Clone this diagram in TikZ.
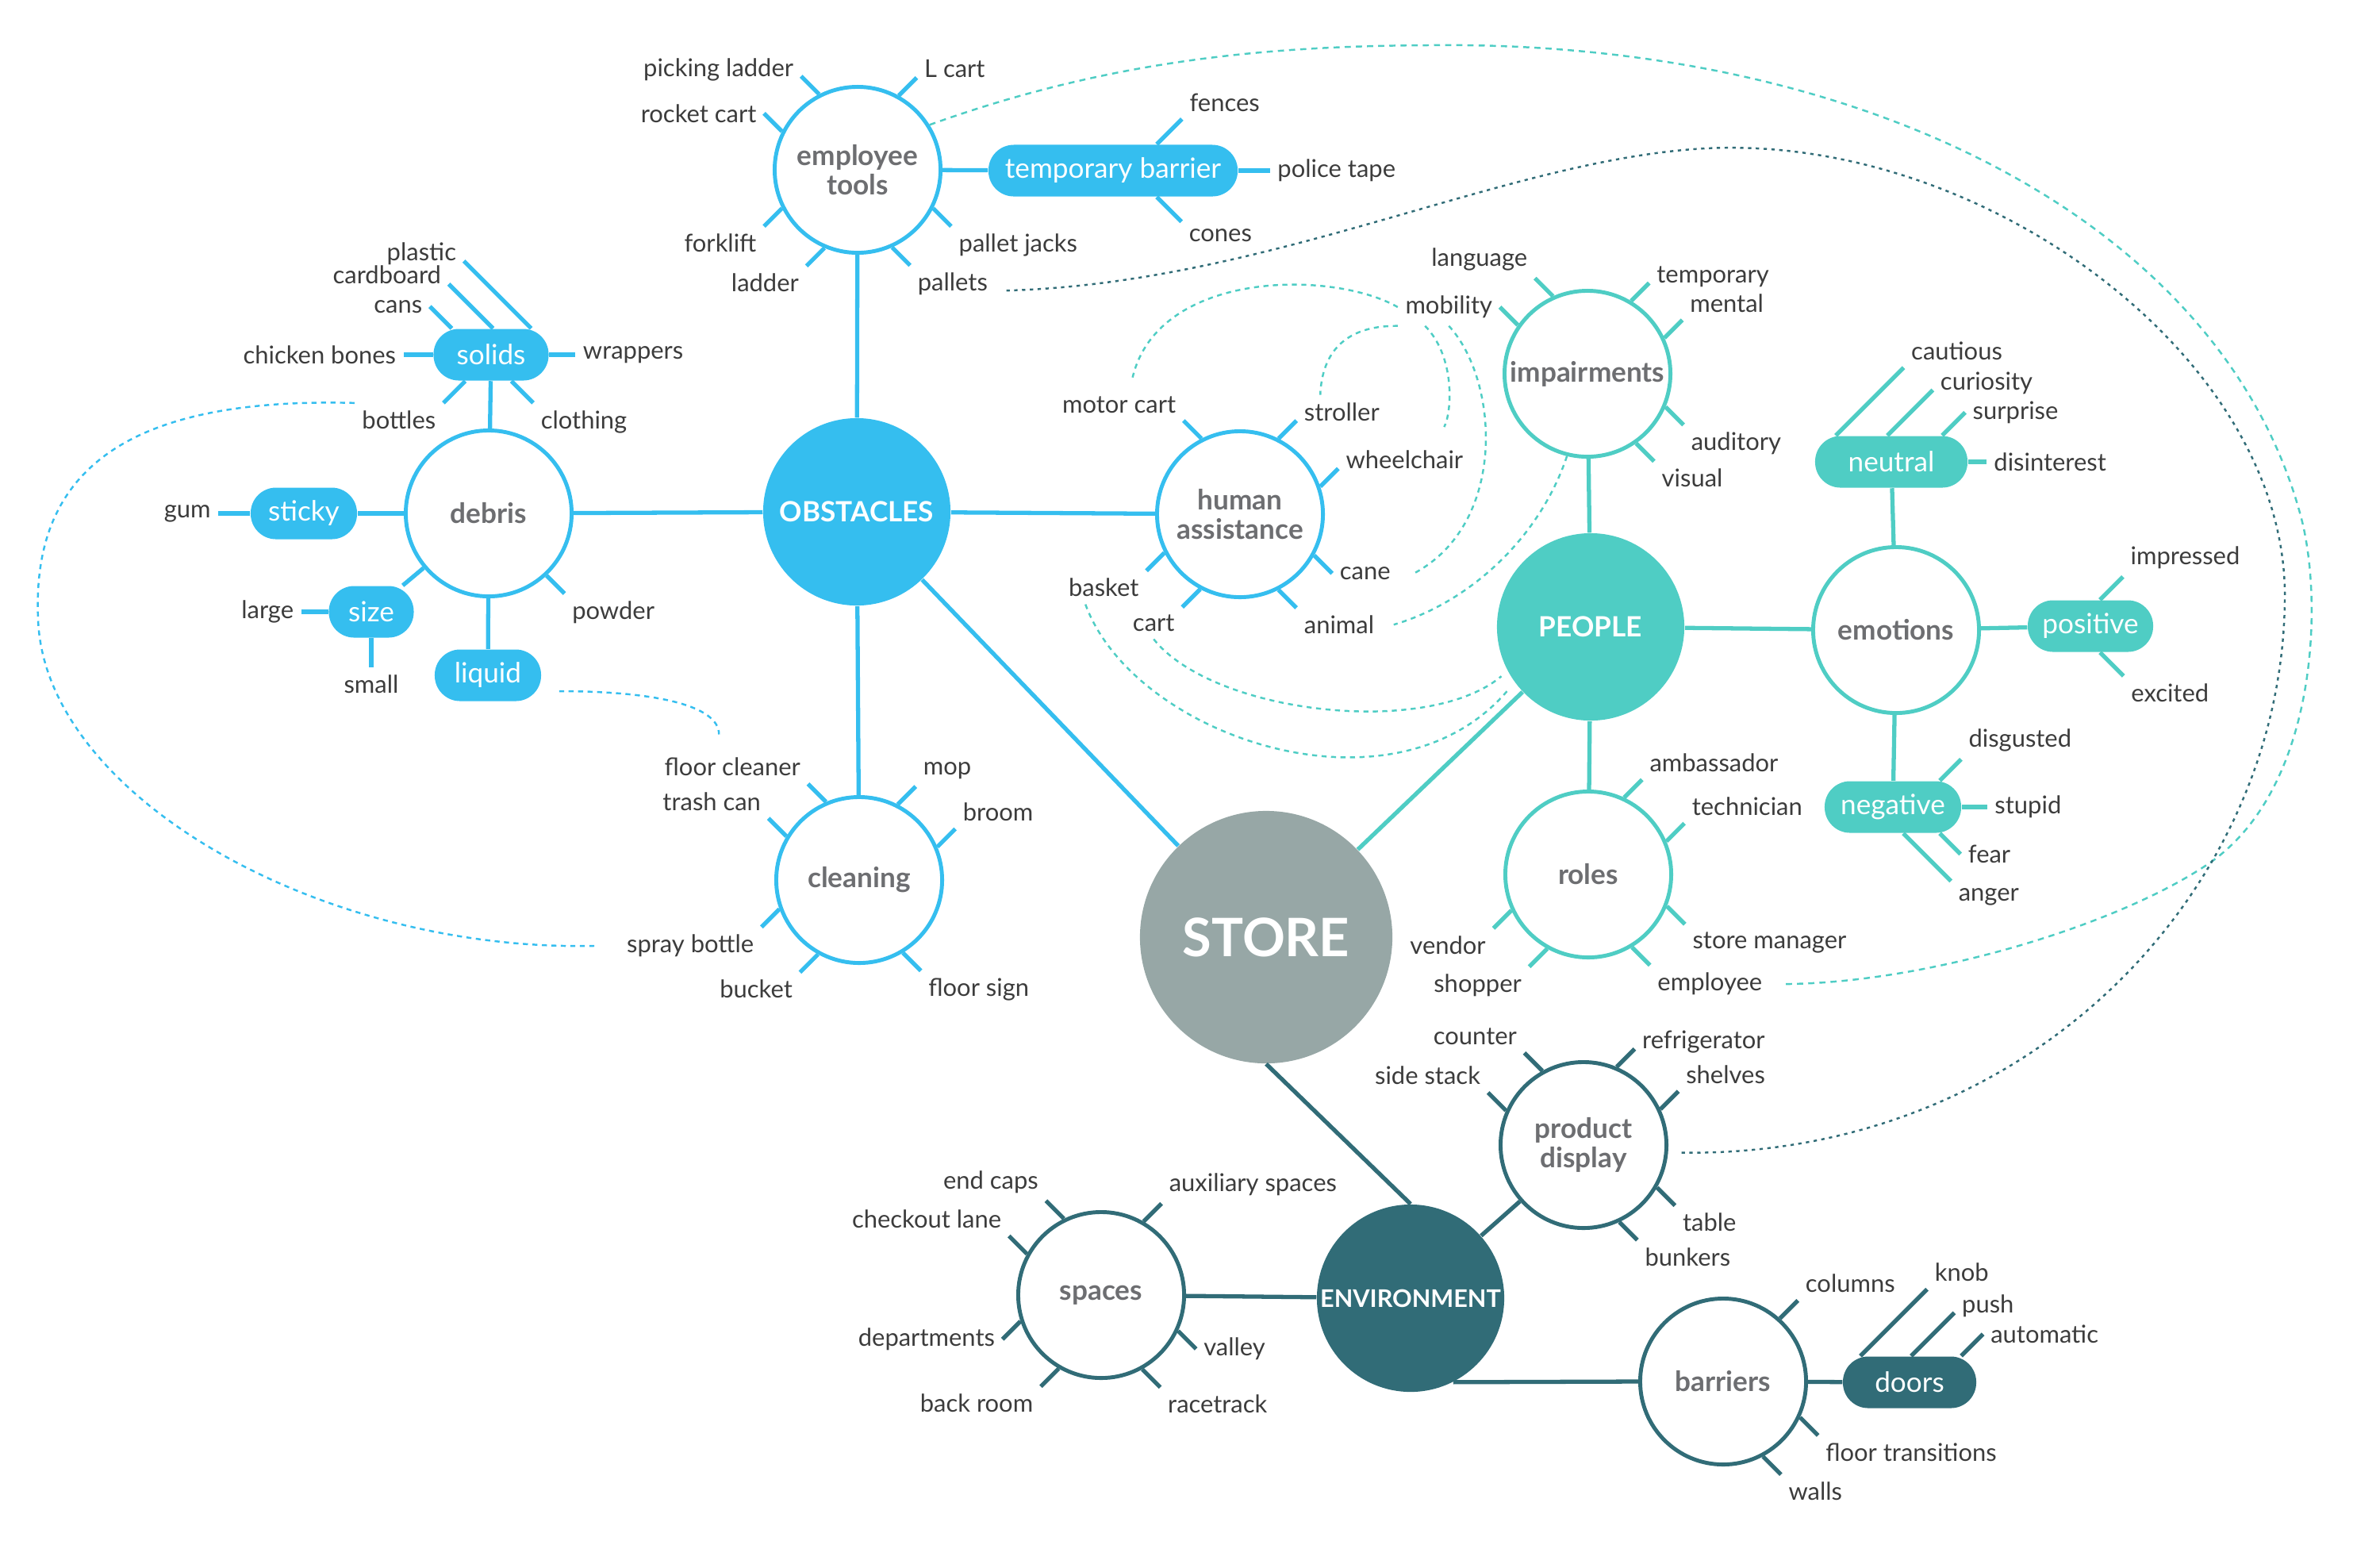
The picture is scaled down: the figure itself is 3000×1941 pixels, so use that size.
\documentclass[tikz,border=0pt]{standalone}
\usepackage{fontspec}
\setmainfont{Lato}

\definecolor{obsblue}{HTML}{35BEEF}
\definecolor{pplteal}{HTML}{4FCDC4}
\definecolor{envteal}{HTML}{316C77}
\definecolor{storegray}{HTML}{97A7A6}
\definecolor{titlegray}{HTML}{6D6E71}
\definecolor{leafgray}{HTML}{3C3C3C}

\tikzset{
  hub/.style={circle, inner sep=0pt, minimum size=2.36cm, text=white, font=\bfseries\fontsize{10}{11}\selectfont},
  topic/.style={circle, draw, fill=white, line width=1.4pt, inner sep=0pt, minimum size=2.09cm, align=center, text=titlegray, font=\bfseries\fontsize{10}{10.4}\selectfont},
  pill/.style={rounded corners=3.2mm, minimum height=6.5mm, inner sep=0pt, text=white, font=\fontsize{10}{11}\selectfont},
  leaf/.style={inner sep=2pt, text=leafgray, font=\fontsize{8.8}{10}\selectfont},
  link/.style={line width=1.5pt},
  tick/.style={line width=1.5pt},
  hint/.style={line width=0.7pt, dash pattern=on 1.8pt off 1.6pt},
}

\begin{document}
\begin{tikzpicture}[x=0.01cm, y=0.01cm]
\useasboundingbox (0,0) rectangle (3000,-1941);

\node[hub, fill=obsblue] (obstacles) at (1080,-645) {OBSTACLES};
\node[hub, fill=pplteal] (people) at (2005,-790) {PEOPLE};
\node[hub, fill=envteal, font=\bfseries\fontsize{8.7}{10}\selectfont] (env) at (1778,-1636) {ENVIRONMENT};
\node[hub, fill=storegray, minimum size=3.18cm, font=\bfseries\fontsize{19}{20}\selectfont] (store) at (1596,-1181) {STORE};

\node[topic, draw=obsblue] (tools) at (1081,-214) {employee\\tools};
\node[topic, draw=obsblue] (debris) at (616,-647) {debris};
\node[topic, draw=obsblue] (clean) at (1083,-1109) {cleaning};
\node[topic, draw=obsblue] (human) at (1563,-648) {human\\assistance};
\node[topic, draw=pplteal] (impair) at (2001,-471) {impairments};
\node[topic, draw=pplteal] (emotions) at (2390,-794) {emotions};
\node[topic, draw=pplteal] (roles) at (2002,-1102) {roles};
\node[topic, draw=envteal] (display) at (1996,-1443) {product\\display};
\node[topic, draw=envteal] (spaces) at (1388,-1632) {spaces};
\node[topic, draw=envteal] (barriers) at (2172,-1741) {barriers};

\node[pill, fill=obsblue, minimum width=1.45cm] (solids) at (619,-447) {solids};
\node[pill, fill=obsblue, minimum width=1.34cm] (sticky) at (383,-647) {sticky};
\node[pill, fill=obsblue, minimum width=1.07cm] (size) at (468,-771) {size};
\node[pill, fill=obsblue, minimum width=1.34cm] (liquid) at (615,-851) {liquid};
\node[pill, fill=obsblue, minimum width=3.14cm] (tbar) at (1403,-215) {temporary barrier};
\node[pill, fill=pplteal, minimum width=1.92cm] (neutral) at (2384,-582) {neutral};
\node[pill, fill=pplteal, minimum width=1.58cm] (positive) at (2635,-789) {positive};
\node[pill, fill=pplteal, minimum width=1.72cm] (negative) at (2386,-1017) {negative};
\node[pill, fill=envteal, minimum width=1.68cm] (doors) at (2407,-1742) {doors};

\draw[link, obsblue] (obstacles) -- (tools);
\draw[link, obsblue] (obstacles) -- (debris);
\draw[link, obsblue] (obstacles) -- (clean);
\draw[link, obsblue] (obstacles) -- (human);
\draw[link, obsblue] (obstacles) -- (store);
\draw[link, obsblue] (tools) -- (tbar);
\draw[link, obsblue] (debris) -- (solids);
\draw[link, obsblue] (debris) -- (sticky);
\draw[link, obsblue] (debris) -- (size);
\draw[link, obsblue] (debris) -- (liquid);
\draw[link, pplteal] (people) -- (store);
\draw[link, pplteal] (people) -- (impair);
\draw[link, pplteal] (people) -- (emotions);
\draw[link, pplteal] (people) -- (roles);
\draw[link, pplteal] (emotions) -- (neutral);
\draw[link, pplteal] (emotions) -- (positive);
\draw[link, pplteal] (emotions) -- (negative);
\draw[link, envteal] (store.south) -- (env.north);
\draw[link, envteal] (env) -- (spaces);
\draw[link, envteal] (env) -- (display);
\draw[link, envteal] (env.-63) -- (barriers.west);
\draw[link, envteal] (barriers) -- (doors);

\foreach \a/\anc/\t [count=\i, evaluate=\a as \d using {45+90*floor(\a/90)}] in {117/base east/picking ladder, 61/base west/L cart, 153/east/rocket cart, 207/north east/forklift, 247/north east/ladder, 294/north west/pallets, 333/north west/pallet jacks}
  \draw[tick, obsblue] (tools.\a) -- ++(\d:32) node[leaf, anchor=\anc] (tools-\i) {\t};
\foreach \a/\anc/\t [count=\i, evaluate=\a as \d using {45+90*floor(\a/90)}] in {117/south east/motor cart, 63/base west/stroller, 19/base west/wheelchair, 331/west/cane, 297/north west/animal, 242/north east/cart, 207/north east/basket}
  \draw[tick, obsblue] (human.\a) -- ++(\d:32) node[leaf, anchor=\anc] (human-\i) {\t};
\foreach \a/\anc/\t [count=\i, evaluate=\a as \d using {45+90*floor(\a/90)}] in {113/south east/floor cleaner, 63/south west/mop, 23/south west/broom, 149/south east/trash can, 200/north east/spray bottle, 241/north east/bucket, 301/north west/floor sign}
  \draw[tick, obsblue] (clean.\a) -- ++(\d:32) node[leaf, anchor=\anc] (clean-\i) {\t};
\foreach \a/\anc/\t [count=\i, evaluate=\a as \d using {45+90*floor(\a/90)}] in {313/north west/powder}
  \draw[tick, obsblue] (debris.\a) -- ++(\d:32) node[leaf, anchor=\anc] (debris-\i) {\t};
\foreach \a/\anc/\t [count=\i, evaluate=\a as \d using {45+90*floor(\a/90)}] in {114/south east/language, 145/east/mobility, 59/base west/temporary, 25/south west/mental, 337/north west/auditory, 305/north west/visual}
  \draw[tick, pplteal] (impair.\a) -- ++(\d:32) node[leaf, anchor=\anc] (impair-\i) {\t};
\foreach \a/\anc/\t [count=\i, evaluate=\a as \d using {45+90*floor(\a/90)}] in {65/south west/ambassador, 23/south west/technician, 338/north west/store manager, 301/north west/employee, 205/north east/vendor, 241/north east/shopper}
  \draw[tick, pplteal] (roles.\a) -- ++(\d:32) node[leaf, anchor=\anc] (roles-\i) {\t};
\foreach \a/\anc/\t [count=\i, evaluate=\a as \d using {45+90*floor(\a/90)}] in {119/south east/counter, 156/south east/side stack, 67/base west/refrigerator, 25/south west/shelves, 330/north west/table, 295/north west/bunkers}
  \draw[tick, envteal] (display.\a) -- ++(\d:32) node[leaf, anchor=\anc] (display-\i) {\t};
\foreach \a/\anc/\t [count=\i, evaluate=\a as \d using {45+90*floor(\a/90)}] in {116/south east/end caps, 60/south west/auxiliary spaces, 151/south east/checkout lane, 198/east/departments, 240/north east/back room, 335/west/valley, 299/north west/racetrack}
  \draw[tick, envteal] (spaces.\a) -- ++(\d:32) node[leaf, anchor=\anc] (spaces-\i) {\t};
\foreach \a/\anc/\t [count=\i, evaluate=\a as \d using {45+90*floor(\a/90)}] in {48/south west/columns, 335/north west/floor transitions, 298/north west/walls}
  \draw[tick, envteal] (barriers.\a) -- ++(\d:32) node[leaf, anchor=\anc] (barriers-\i) {\t};

\foreach \p/\s/\d/\l/\anc/\t [count=\i] in {north/5.05mm/135/120/base east/plastic, north/0.25mm/135/79/base east/cardboard, north/-4.95mm/135/39/east/cans, west/0mm/180/37/east/chicken bones, east/0mm/0/33/west/wrappers, south/-3.25mm/225/39/north east/bottles, south/2.55mm/315/39/north west/clothing}
  \draw[tick, obsblue] ([xshift=\s]solids.\p) -- ++(\d:\l) node[leaf, anchor=\anc] (solids-\i) {\t};
\draw[tick, obsblue] (sticky.west) -- ++(180:40) node[leaf, anchor=east] (sticky-1) {gum};
\draw[tick, obsblue] (size.west) -- ++(180:34) node[leaf, anchor=east] (size-1) {large};
\draw[tick, obsblue] (size.south) -- ++(270:37) node[leaf, anchor=north] (size-2) {small};
\foreach \p/\s/\d/\l/\anc/\t [count=\i] in {north/5.5mm/45/45/south west/fences, east/0mm/0/40/west/police tape, south/5.5mm/315/44/north west/cones}
  \draw[tick, obsblue] ([xshift=\s]tbar.\p) -- ++(\d:\l) node[leaf, anchor=\anc] (tbar-\i) {\t};
\foreach \p/\s/\d/\l/\anc/\t [count=\i] in {north/-7mm/45/121/south west/cautious, north/-0.5mm/45/81/base west/curiosity, north/6.4mm/45/41/west/surprise, east/0mm/0/23/west/disinterest}
  \draw[tick, pplteal] ([xshift=\s]neutral.\p) -- ++(\d:\l) node[leaf, anchor=\anc] (neutral-\i) {\t};
\foreach \p/\s/\d/\l/\anc/\t [count=\i] in {north/1.2mm/45/41/south west/impressed, south/1.2mm/315/42/north west/excited}
  \draw[tick, pplteal] ([xshift=\s]positive.\p) -- ++(\d:\l) node[leaf, anchor=\anc] (positive-\i) {\t};
\foreach \p/\s/\d/\l/\anc/\t [count=\i] in {north/5.9mm/45/38/south west/disgusted, east/0mm/0/32/west/stupid, south/5.9mm/315/37/west/fear, south/1.3mm/315/85/north west/anger}
  \draw[tick, pplteal] ([xshift=\s]negative.\p) -- ++(\d:\l) node[leaf, anchor=\anc] (negative-\i) {\t};
\foreach \p/\s/\d/\l/\anc/\t [count=\i] in {north/-6.2mm/45/119/south west/knob, north/0.2mm/45/77/base west/push, north/6.5mm/45/39/west/automatic}
  \draw[tick, envteal] ([xshift=\s]doors.\p) -- ++(\d:\l) node[leaf, anchor=\anc] (doors-\i) {\t};

\draw[hint, obsblue] (solids-6.north west) .. controls (150,-500) and (40,-600) .. (48,-780)
  .. controls (55,-1000) and (400,-1200) .. ([xshift=-3mm]clean-5.west);
\draw[hint, obsblue] ([xshift=2.2mm,yshift=-2mm]liquid.east) .. controls +(115,0) and +(0,38) .. ([xshift=-1.7mm,yshift=2mm]clean-1.north);
\draw[hint, pplteal] (impair-2.west) .. controls (1680,-340) and (1460,-340) .. ([xshift=1.7mm,yshift=1.4mm]human-1.north);
\draw[hint, pplteal] (impair-2.south west) .. controls (1690,-410) and (1666,-450) .. ([xshift=3mm]human-2.north west);
\draw[hint, pplteal] ([xshift=-3mm]impair-2.south) .. controls (1835,-450) and (1830,-520) .. ([xshift=5mm,yshift=2mm]human-3.north);
\draw[hint, pplteal] (impair-2.south) .. controls (1890,-480) and (1900,-660) .. ([xshift=2mm]human-4.east);
\draw[hint, pplteal] (impair.256) .. controls (1940,-680) and (1850,-760) .. ([xshift=1.5mm]human-5.east);
\draw[hint, pplteal, shorten >=1mm] (human-6.south) .. controls (1530,-900) and (1800,-930) .. (people.208);
\draw[hint, pplteal, shorten >=1mm] ([xshift=-2.3mm]human-7.south) .. controls (1430,-930) and (1760,-1040) .. (people.216);
\draw[hint, pplteal, dash pattern=on 2.2pt off 1.8pt] (tools.32) .. controls (1400,-75) and (1600,-58) .. (1800,-57)
  .. controls (2350,-50) and (2800,-280) .. (2900,-650)
  .. controls (2930,-761) and (2920,-1000) .. (2780,-1091)
  .. controls (2660,-1170) and (2420,-1240) .. ([xshift=1.5mm]roles-4.east);
\draw[hint, envteal, dash pattern=on 1.2pt off 1.6pt, shorten >=1.4mm] ([xshift=1.4mm,yshift=-0.8mm]tools-6.east) .. controls (1600,-357) and (1900,-200) .. (2150,-187)
  .. controls (2500,-169) and (2880,-450) .. (2880,-750)
  .. controls (2880,-1120) and (2560,-1460) .. (display.-5);
\end{tikzpicture}
\end{document}
